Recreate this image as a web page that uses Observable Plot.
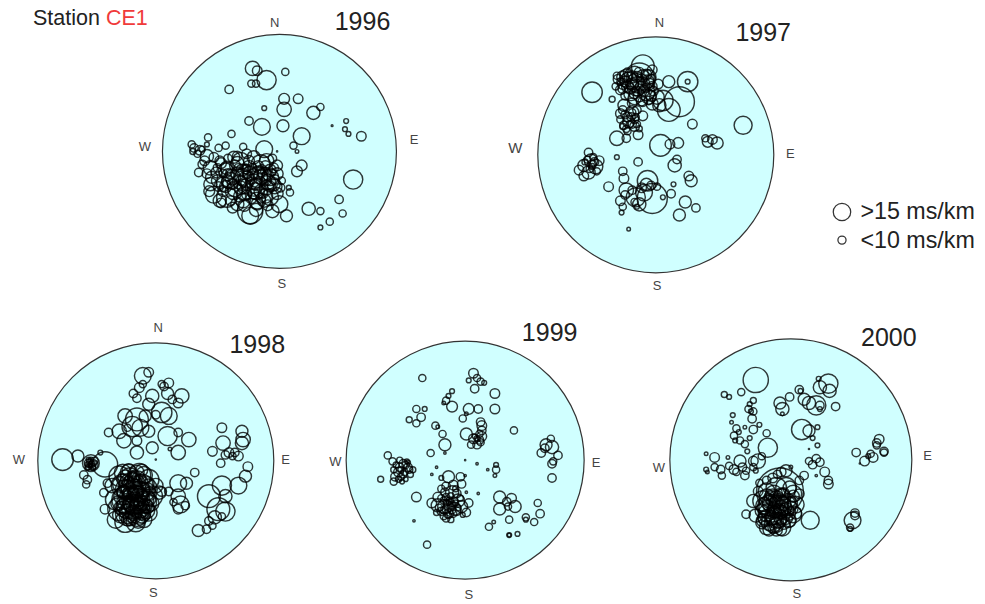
<!DOCTYPE html>
<html>
<head>
<meta charset="utf-8">
<script src="https://cdn.jsdelivr.net/npm/d3@7"></script>
<script src="https://cdn.jsdelivr.net/npm/@observablehq/plot@0.6"></script>
<style>
  body { margin: 0; background: #fff; }
  #fig { position: relative; width: 985px; height: 604px; overflow: hidden; background: #fff;
         font-family: "Liberation Sans", Arial, sans-serif; }
  #fig .panel { position: absolute; }
  #title { position: absolute; left: 33px; top: 6px; font-size: 21.5px; line-height: 24px; color: #222; }
</style>
</head>
<body>
<div id="fig">
  <div id="title">Station <span style="color:#f03a3a">CE1</span></div>
</div>
<script>
// Shear-wave splitting observations at station CE1, per year.
// Each entry: [east, north, delay] — east/north in % of the projection radius, delay in ms/km.
const years = ["1996", "1997", "1998", "1999", "2000"];

const obs1996 = [
  [-23,71,12],[-19,69,8],[-11,61,16],[-24,58,6],[-20,58,6],[5,68,6],[-43,53,7],[4,45,9],[16,45,8],[4,36,12],
  [-13,37,4],[29,33,11],[35,38,6],[57,26,4],[45,22,1.5],[56,19,4],[59,15,4],[70,13,8],[-26,26,7],[-15,21,14],
  [3,22,10],[19,13,14],[-41,15,6],[-61,12,6],[-75,6,6],[-46,5,6],[-31,4,6],[-13,2,14],[12,5,6],[15,0,3],
  [-2,0,1],[19,-12,9],[15,-17,9],[63,-24,16],[8,-31,4],[9,-35,6],[51,-41,7],[25,-49,11],[35,-51,6],[54,-53,6],
  [43,-60,6],[35,-65,4],[6,-55,10],[-6,-51,11],[-25,-51,21],[-25,-55,14],[0,-45,14],[-19,-42,14],
  [-73,3,7],[-68,1,8],[-62,-4,11],[-56,-5,8],[-66,-11,7],[-59,-14,12],[-51,-8,8],[-45,-14,11],[-39,-5,10],[-33,-8,14],
  [-28,-2,8],[-22,-5,11],[-16,-11,16],[-11,-8,12],[-5,-14,8],[-2,-19,10],[-8,-22,14],[-13,-19,11],[-19,-22,17],[-25,-19,12],
  [-31,-22,14],[-36,-19,11],[-42,-25,14],[-48,-28,12],[-53,-25,10],[-59,-28,11],[-56,-37,14],[-51,-42,11],[-45,-39,17],[-39,-34,14],
  [-33,-31,11],[-28,-28,10],[-22,-31,14],[-16,-34,11],[-11,-31,12],[-5,-28,11],[1,-31,7],[2,-25,6],[-8,-39,14],[-13,-42,11],
  [-19,-45,10],[-31,-42,12],[-36,-45,11],[-42,-42,8],[-62,-19,8],[-69,-18,7],[-52,3,6],[-62,6,4],[-29,-15,8],[-23,-14,7],
  [-13,-17,6],[-35,-14,7],[-28,-37,8],[-25,-25,6],[-33,-25,8],[-16,-25,7],[-22,-19,8],[-11,-25,8],[-28,-14,6],[-15,-15,7],
  [-6,-18,6],[-42,-19,8],[-48,-19,7],[-53,-14,7],
  [-50,-10,9],[-44,-20,10],[-38,-12,9],[-30,-30,12],[-20,-28,10],[-10,-20,9],[-4,-24,8],[-46,-30,10],[-40,-28,9],[-34,-38,10],
  [-24,-40,9],[-14,-36,8],[-8,-30,9],[-18,-12,8],[-26,-8,9],[-36,-4,8],[-54,-18,9],[-58,-22,10],[-64,-8,8],[-70,-2,6],
  [-74,0,5],[-66,2,5],[-48,-34,9],[-30,-46,10],[-20,-50,11],[-10,-46,9],[-2,-36,10],[-40,-48,9],[-52,-30,8],[-28,-20,7],
  [-12,-12,8],[-6,-6,7],[-22,-36,9],[-32,-16,10],[-16,-40,8],[-44,-6,7],[-60,-34,9],[-50,-44,8],
  [-46,-16,12],[-40,-22,13],[-34,-26,12],[-28,-24,14],[-22,-26,13],[-16,-22,12],[-10,-26,13],[-4,-30,12],[-38,-32,13],[-30,-36,12],
  [-20,-34,14],[-12,-38,12],[-44,-26,11],[-26,-14,12],[-18,-18,11],[-8,-16,10],[-2,-12,9],[-36,-10,11]
];

const obs1997 = [
  [-54,53,17],[-37,47,5],[-11,75,19],[-14,65,25],[27,62,17],[27,62,4],[11,62,10],[-28,66,10],[-23,63,14],[-6,66,12],
  [-3,72,8],[-16,58,16],[-21,52,12],[-8,53,14],[1,49,12],[6,46,17],[20,45,25],[11,38,19],[3,42,11],[-3,43,10],
  [-11,45,8],[-27,42,10],[-30,35,8],[-20,36,11],[-11,33,8],[-23,28,10],[-18,24,8],[-27,25,7],[-21,32,7],[31,26,8],
  [74,25,15],[-33,14,12],[-25,14,7],[-15,17,8],[4,8,18],[12,9,8],[19,10,9],[44,11,9],[48,13,8],[52,10,10],
  [42,14,6],[-33,-2,4],[-15,-6,7],[18,-4,7],[16,-9,11],[-57,2,7],[-55,-5,11],[-61,-9,10],[-51,-10,12],[-57,-15,11],
  [-65,-13,8],[-48,-5,8],[-54,-8,7],[-61,-18,8],[-53,-2,6],[-28,-14,7],[28,-18,8],[30,-22,10],[15,-25,4],[-40,-27,8],
  [-27,-20,8],[-25,-30,12],[-7,-22,17],[-8,-25,10],[-4,-26,7],[-3,-37,25],[-17,-36,16],[-14,-42,11],[13,-33,7],[-30,-39,8],
  [-28,-44,6],[-29,-49,4],[25,-40,10],[34,-45,7],[20,-51,10],[-16,-44,4],[-23,-63,3],[-10,-32,14],[1,-27,6],[6,-36,4],
  [-25,67,11],[-18,69,12],[-11,67,10],[-7,62,11],[-17,62,14],[-13,58,8],[-24,58,10],[-30,55,8],[-18,48,11],[-6,49,12],
  [-14,50,10],[-3,58,8],[-33,67,6],[-28,38,7],[-24,32,8],[-20,26,7],[-17,32,6],[-25,22,6],[-16,38,7],
  [-32,64,8],[-28,60,9],[-20,66,10],[-14,70,8],[-8,68,9],[-4,64,8],[-22,56,9],[-16,54,8],[-10,60,10],[-2,54,8],
  [-26,50,7],[-30,62,6],[-12,46,9],[-20,44,8],[-6,46,7],[2,60,8],[-24,70,7],[-34,58,6],[-18,60,7],[-8,56,6],
  [-26,62,9],[-20,60,10],[-12,64,9],[-6,60,10],[-16,66,9],[-24,66,8],[-10,54,9],[-18,52,9],[-28,56,8],[-4,50,9],
  [-30,30,6],[-26,34,7],[-22,26,6],[-18,30,7],[-24,20,6],[-28,24,5],[-16,26,6],[-20,36,6],[-14,22,5],
  [-58,-4,6],[-52,-6,7],[-56,-12,6],[-60,-6,5],[-50,-14,6],[-54,-10,5],
  [-20,-30,7],[-12,-28,8],[-18,-40,6],[-26,-34,7]
];

const obs1998 = [
  [-11,72,14],[-6,75,8],[-14,62,8],[-11,65,6],[-19,57,7],[-16,53,7],[5,65,6],[7,63,7],[11,66,8],[10,57,10],
  [22,55,12],[19,49,8],[14,52,7],[-3,55,11],[-6,48,10],[5,41,17],[11,38,14],[-16,35,19],[-20,29,17],[-26,38,12],
  [-9,38,10],[0,39,7],[-13,28,14],[-6,25,10],[-31,25,12],[-27,17,12],[-40,24,7],[-24,28,6],[-16,17,8],[-16,7,11],
  [-3,11,10],[10,21,16],[19,24,7],[28,18,12],[19,7,12],[12,10,3],[0,1,1],
  [-79,1,18],[-66,4,10],[-55,-2,14],[-57,-2,7],[-54,-5,6],[-58,-6,4],[-52,0,6],[-55,-4,3],[-57,1,4],[-53,-3,8],
  [-43,-3,21],[-47,7,4],[-61,-12,7],[-58,-16,7],[-59,-20,6],
  [-56,-1,5],[-54,-3,5],[-58,-3,4],[-55,1,4],[-53,-6,4],[-57,-5,5],[-52,-2,4],[-56,-4,3],
  [-31,-13,17],[-23,-10,14],[-14,-12,19],[-6,-16,17],[0,-21,12],[3,-27,11],[-37,-21,12],[-28,-21,19],[-20,-21,22],[-12,-21,19],
  [-3,-30,17],[-34,-33,17],[-26,-33,22],[-17,-33,23],[-9,-35,19],[-31,-41,19],[-23,-44,22],[-14,-44,19],[-6,-44,14],[-34,-50,14],
  [-26,-52,17],[-17,-52,16],[-12,-47,11],[-43,-41,8],[-44,-27,7],[-41,-19,7],[5,-26,8],[11,-26,7],[-21,-28,14],[-19,-37,17],
  [-27,-27,11],[-23,-19,11],[-17,-27,12],[-26,-38,14],[-14,-35,14],[-20,-47,11],[-28,-16,10],[-12,-30,11],[-20,-13,8],[-24,-50,10],
  [-16,-20,8],
  [-28,-10,14],[-22,-14,16],[-16,-16,15],[-10,-12,14],[-6,-22,13],[-26,-24,16],[-20,-24,18],[-14,-26,17],[-8,-26,15],[-4,-36,13],
  [-28,-30,15],[-22,-32,18],[-16,-30,17],[-10,-34,16],[-26,-40,16],[-20,-40,18],[-14,-40,17],[-8,-42,14],[-24,-46,14],[-16,-48,15],
  [-10,-50,13],[-30,-46,13],[-32,-36,12],[-30,-20,13],[-18,-20,14],[-12,-44,12],[-20,-34,10],[-16,-10,12],[-24,-30,9],[-14,-36,9],
  [-26,-14,12],[-20,-17,13],[-13,-18,12],[-7,-19,11],[-24,-22,12],[-18,-24,13],[-11,-24,12],[-5,-28,11],[-27,-35,12],[-21,-37,13],
  [-15,-38,14],[-9,-38,12],[-25,-43,12],[-19,-44,13],[-13,-42,12],[-7,-39,11],[-22,-49,11],[-15,-51,12],[-28,-26,10],[-10,-46,10],
  [-18,-13,10],[-23,-8,11],[-12,-8,10],[-30,-40,11],[-6,-32,12],
  [19,-19,14],[26,-19,10],[19,-30,12],[21,-37,14],[19,-41,8],[15,-35,6],[25,-38,7],[33,-10,7],
  [56,28,8],[73,25,10],[74,18,12],[73,15,11],[57,15,12],[48,8,8],[59,5,7],[62,7,8],[65,4,6],[67,7,7],
  [70,4,8],[78,-5,8],[76,-13,10],[55,-2,7],[70,-21,14],[56,-21,16],[45,-30,19],[59,-30,11],[53,-41,19],[59,-43,16],
  [50,-48,11],[45,-51,7],[48,-55,6],[43,-58,7],[36,-59,10],[56,-47,6]
];

const obs1999 = [
  [-36,69,6],[7,73,8],[3,67,4],[10,69,6],[13,66,6],[16,65,4],[8,60,7],[-11,58,4],[-14,54,4],[-16,50,6],
  [-18,48,3],[-11,45,9],[25,56,8],[25,43,8],[3,43,9],[11,43,7],[1,39,3],[-2,35,6],[-41,43,6],[-34,43,4],
  [-37,36,7],[-47,34,5],[-41,31,6],[-25,29,6],[-19,22,6],[-23,28,3],[-17,13,10],[-29,6,6],[-17,6,2],[13,32,7],
  [14,29,8],[14,25,7],[1,22,10],[7,18,8],[12,17,7],[14,20,8],[10,13,7],[5,13,6],[41,25,6],
  [12,22,6],[10,18,5],[13,15,6],[8,20,4],
  [-65,4,6],[-61,-1,6],[-55,-6,7],[-52,-3,7],[-48,-6,7],[-56,-10,8],[-51,-10,6],[-59,-14,7],[-54,-14,6],[-47,-8,6],
  [-49,-1,4],[-60,-18,6],[-71,-16,5],
  [-58,-4,5],[-54,-8,5],[-50,-4,6],[-46,-12,5],[-52,-12,6],[-56,-16,5],[-50,-16,4],[-60,-8,5],[-48,-2,4],[-44,-8,5],
  [-55,0,5],[-53,-18,4],
  [72,18,6],[68,13,10],[67,10,7],[64,6,7],[73,11,11],[78,4,7],[74,-1,6],[73,-3,7],[73,-15,7],
  [26,-4,4],[26,-8,6],[25,-13,3],[10,-3,2],[19,-8,2],[0,0,1],[-24,-6,2],[-28,-12,2],
  [-14,-14,10],[-4,-14,7],[0,-13,2],[-3,-20,7],[-20,-15,4],[-16,-22,7],[-10,-21,8],[-11,-27,11],[-17,-27,7],[-23,-31,8],
  [-7,-28,7],[-6,-34,11],[1,-27,2],[11,-28,2],[-41,-31,8],[-28,-36,8],[-23,-38,11],[-17,-39,12],[-13,-38,10],[-9,-41,11],
  [-3,-39,10],[3,-36,7],[1,-44,7],[-14,-45,8],[-16,-49,6],[-20,-43,7],[-13,-34,6],[-18,-34,6],[-10,-35,8],[-16,-41,7],
  [-11,-42,6],[-14,-36,4],[-7,-43,7],
  [-20,-32,6],[-16,-36,5],[-12,-38,6],[-8,-36,5],[-18,-42,6],[-14,-46,5],[-10,-45,6],[-6,-40,5],[-22,-40,6],[-4,-32,5],
  [-12,-30,5],[-16,-31,6],[-8,-24,5],[-20,-24,6],[-2,-46,4],[-24,-44,5],[-12,-50,5],[-18,-47,6],
  [29,-31,10],[29,-41,10],[35,-35,7],[39,-32,8],[42,-39,10],[36,-39,6],[61,-36,6],[63,-45,7],[37,-50,6],[51,-48,6],
  [51,-50,4],[58,-52,6],[24,-52,3],[20,-56,6],[37,-63,4],[44,-62,4],[37,-63,3],[-43,-51,2],[-32,-71,6]
];

const obs2000 = [
  [-29,66,21],[-55,54,5],[-51,52,4],[-41,56,6],[-31,49,5],[-34,46,4],[-35,42,6],[-33,40,4],[-31,40,6],[-32,34,7],
  [-48,37,4],[-49,31,3],[-45,26,6],[-43,23,4],[-47,20,6],[-46,16,4],[-42,16,6],[-38,27,3],[-31,25,7],[-26,29,4],
  [-20,22,6],[-38,13,6],[-34,18,4],[-19,10,16],[-70,5,3],[-63,2,8],[-52,2,3],[-70,-8,4],[-69,-10,3],[-63,-6,6],
  [-58,-8,7],[-57,-13,6],[-51,-5,6],[-47,-8,8],[-45,-10,6],[-40,-6,7],[-37,-9,6],[-38,-13,7],[-31,-6,6],[-27,-1,12],
  [-31,-1,8],[-24,3,6],[-36,7,4],[-42,-1,10],[-29,-9,4],
  [-9,47,10],[-7,42,11],[-7,38,3],[-1,52,7],[7,58,7],[8,57,4],[11,50,10],[15,47,11],[21,45,16],[24,45,7],
  [24,42,4],[23,67,4],[24,60,11],[31,63,16],[32,57,11],[37,44,7],[9,25,17],[15,24,10],[22,27,4],[18,18,4],
  [22,12,4],[15,9,1],
  [54,6,7],[61,-1,8],[64,3,4],[66,5,6],[71,14,7],[73,17,8],[71,12,6],[77,7,7],[77,6,6],[68,2,8],[57,-3,1],
  [15,-1,6],[18,-4,7],[21,1,7],[24,-2,7],[28,-10,8],[31,-20,8],[31,-17,7],[21,-13,2],[11,-13,7],[7,-17,7],[0,-6,3],
  [-9,-26,39],[-4,-9,10],[-8,-10,8],[-11,-12,7],[-26,-19,6],[-27,-26,8],[-31,-34,11],[-37,-45,7],[-29,-46,11],[-23,-50,11],
  [-20,-56,12],[-15,-53,14],[-7,-56,14],[-1,-50,11],[2,-45,14],[4,-37,14],[2,-28,14],[-4,-23,17],[-12,-23,17],[-20,-26,14],
  [-23,-34,17],[-18,-39,19],[-9,-39,19],[-4,-38,17],[-12,-48,17],[-20,-48,14],[-7,-31,14],[-15,-31,14],[-1,-23,11],[7,-28,8],
  [-20,-17,7],[-15,-15,8],[-12,-35,11],[-16,-34,8],[-8,-43,11],[-13,-43,10],
  [-20,-30,12],[-14,-28,14],[-8,-30,13],[-2,-34,12],[-22,-38,14],[-16,-36,15],[-10,-36,16],[-4,-42,13],[-20,-44,14],[-14,-46,15],
  [-8,-46,14],[-2,-50,12],[-18,-52,13],[-12,-54,12],[-6,-52,11],[-24,-42,11],[0,-40,12],[-14,-40,10],[-10,-42,9],[-16,-30,9],
  [-6,-28,10],[-12,-58,10],[-24,-52,10],[2,-30,10],
  [-18,-34,12],[-12,-32,13],[-6,-36,12],[0,-36,11],[-20,-40,13],[-14,-42,12],[-8,-40,13],[-2,-44,12],[-16,-48,12],[-10,-50,13],
  [-4,-48,11],[-22,-48,11],[-14,-56,10],[-8,-58,9],[-18,-58,10],[4,-44,10],
  [16,-50,15],[53,-44,7],[53,-46,7],[51,-50,14],[49,-56,6],[49,-57,4]
];

// legend
const legendDelays = [15, 7];
const legendLabels = [">15 ms/km", "<10 ms/km"];

const dataByYear = {"1996": obs1996, "1997": obs1997, "1998": obs1998, "1999": obs1999, "2000": obs2000};

// Layout of each stereonet (pixel centre, radius) and where its labels sit (in % of radius)
const layout = {
  "1996": {cx: 279, cy: 151, R: 117, title: [71, 111],
           compass: [["N", -4, 110, 13], ["S", 2, -113, 13], ["W", -115, 4, 13], ["E", 115, 10, 13]]},
  "1997": {cx: 655, cy: 154, R: 118, title: [91, 103],
           compass: [["N", 3, 112, 13], ["S", 1, -111, 13], ["W", -119, 6, 15], ["E", 114, 1, 13]]},
  "1998": {cx: 155, cy: 460, R: 118, title: [86, 98],
           compass: [["N", 2, 113, 13], ["S", -2, -112, 13], ["W", -116, 1, 13], ["E", 110, 1, 13]]},
  "1999": {cx: 465, cy: 460, R: 119, title: [71, 107],
           compass: [["S", 3, -113, 13], ["W", -109, -1, 13], ["E", 110, -2, 13]]},
  "2000": {cx: 790, cy: 459, R: 121, title: [81, 101],
           compass: [["S", 5, -111, 13], ["W", -109, -7, 13], ["E", 113, 3, 13]]}
};

const rScale = {type: "linear", domain: [0, 15], range: [0, 9]};
const font = "'Liberation Sans', Arial, sans-serif";
const fig = document.getElementById("fig");

for (const year of years) {
  const cfg = layout[year];
  const k = 1.35;
  const size = 2 * k * cfg.R;
  const pts = dataByYear[year].map(([x, y, d]) => ({x, y, d}));
  const compass = cfg.compass.map(([t, x, y, fs]) => ({t, x, y, fs}));
  const plot = Plot.plot({
    width: size, height: size, margin: 0,
    x: {domain: [-135, 135], axis: null},
    y: {domain: [-135, 135], axis: null},
    r: rScale,
    style: {background: "transparent", overflow: "visible", fontFamily: font},
    marks: [
      Plot.dot([{x: 0, y: 0}], {x: "x", y: "y", r: cfg.R, fill: "#d0ffff", stroke: "#333", strokeWidth: 1.2}),
      Plot.dot(pts, {x: "x", y: "y", r: "d", stroke: "#000", strokeWidth: 1.45, strokeOpacity: 0.78, fill: "none"}),
      Plot.text(compass.filter(c => c.fs === 13), {x: "x", y: "y", text: "t", fontSize: 13, fill: "#444"}),
      Plot.text(compass.filter(c => c.fs === 15), {x: "x", y: "y", text: "t", fontSize: 15, fill: "#444"}),
      Plot.text([{x: cfg.title[0], y: cfg.title[1], t: year}], {x: "x", y: "y", text: "t", fontSize: 25, fill: "#222"})
    ]
  });
  const wrap = document.createElement("div");
  wrap.className = "panel";
  wrap.style.left = (cfg.cx - size / 2) + "px";
  wrap.style.top = (cfg.cy - size / 2) + "px";
  wrap.appendChild(plot);
  fig.appendChild(wrap);
}

// Legend
const legendData = legendDelays.map((d, i) => ({d, label: legendLabels[i]}));
const legend = Plot.plot({
  width: 165, height: 60, margin: 0,
  y: {type: "point", domain: legendLabels, range: [15.5, 45], padding: 0, axis: null},
  r: rScale,
  style: {background: "transparent", overflow: "visible", fontFamily: font},
  marks: [
    Plot.dot(legendData, {y: "label", r: "d", frameAnchor: "left", dx: 17, stroke: "#000", strokeOpacity: 0.8, strokeWidth: 1.3, fill: "none"}),
    Plot.text(legendData, {y: "label", text: "label", frameAnchor: "left", dx: 36, textAnchor: "start", fontSize: 24, fill: "#222"})
  ]
});
const lw = document.createElement("div");
lw.className = "panel";
lw.style.left = "825px";
lw.style.top = "196px";
lw.appendChild(legend);
fig.appendChild(lw);
</script>
</body>
</html>
